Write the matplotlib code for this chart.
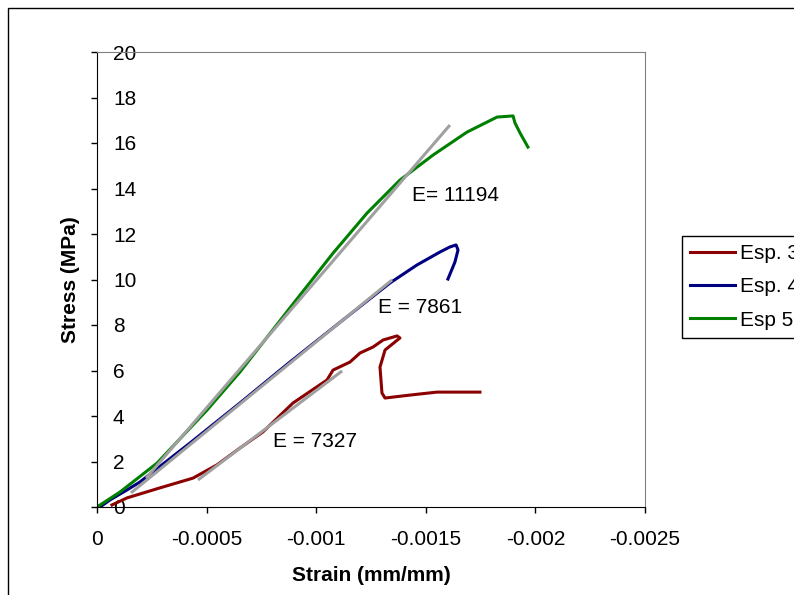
import matplotlib
matplotlib.use("Agg")
import matplotlib.pyplot as plt
from matplotlib.patches import Rectangle

plt.rcParams['font.family'] = ['Liberation Sans', 'DejaVu Sans']

# Esp. 3 (red)
esp3_strain = [-0.0000684, -0.000137, -0.000287, -0.000438, -0.000547, -0.000652, -0.000757,
               -0.000894, -0.001049, -0.001077, -0.001154, -0.001200, -0.001259, -0.001305,
               -0.001369, -0.001382, -0.001314, -0.001291, -0.001300, -0.001314, -0.001428,
               -0.001551, -0.001747]
esp3_stress = [0.09, 0.40, 0.84, 1.27, 1.85, 2.59, 3.30, 4.57, 5.58, 6.02, 6.37, 6.77, 7.03,
               7.34, 7.52, 7.43, 6.90, 6.15, 5.01, 4.79, 4.92, 5.05, 5.05]

# Esp. 4 (blue)
esp4_strain = [-0.0000137, -0.0000593, -0.000137, -0.000196, -0.000424, -0.000652, -0.000880,
               -0.001122, -0.001337, -0.001460, -0.001565, -0.001610, -0.001638, -0.001647,
               -0.001633, -0.001601]
esp4_stress = [0.0, 0.31, 0.75, 1.10, 2.81, 4.57, 6.37, 8.22, 9.85, 10.64, 11.21, 11.43,
               11.52, 11.30, 10.77, 10.02]

# Esp 5 (green)
esp5_strain = [0.0, -0.000105, -0.000274, -0.000502, -0.000652, -0.000880, -0.001077,
               -0.001232, -0.001382, -0.001533, -0.001688, -0.001825, -0.001898, -0.001907,
               -0.001930, -0.001966]
esp5_stress = [0.0, 0.66, 1.93, 4.26, 5.93, 8.75, 11.16, 12.92, 14.37, 15.47, 16.48, 17.14,
               17.19, 16.88, 16.44, 15.82]

# linear fits (end points)
fit3_x = [-0.000461, -0.001118]
fit3_y = [1.19, 5.98]
fit4_x = [-0.000155, -0.001346]
fit4_y = [0.62, 9.98]
fit5_x = [-0.000224, -0.00161]
fit5_y = [1.27, 16.79]

labels = ["Esp. 3", "Esp. 4", "Esp 5"]
annot_text = ["E = 7327", "E = 7861", "E= 11194"]
annot_x = [-0.000803, -0.001282, -0.001437]
annot_y = [2.90, 8.79, 13.71]

xticks = [0, -0.0005, -0.001, -0.0015, -0.002, -0.0025]
xticklabels = ["0", "-0.0005", "-0.001", "-0.0015", "-0.002", "-0.0025"]
yticks = list(range(0, 21, 2))

fs = 15
fig = plt.figure(figsize=(7.94, 5.95), dpi=100)
ax = fig.add_axes([97/794, 1-507/595, 548/794, 455/595])

l3, = ax.plot(esp3_strain, esp3_stress, color='#8B0000', lw=2.2, solid_joinstyle='round')
l4, = ax.plot(esp4_strain, esp4_stress, color='#000080', lw=2.2, solid_joinstyle='round')
l5, = ax.plot(esp5_strain, esp5_stress, color='#008000', lw=2.2, solid_joinstyle='round')
for fx, fy in [(fit3_x, fit3_y), (fit4_x, fit4_y), (fit5_x, fit5_y)]:
    ax.plot(fx, fy, color='#A0A0A0', lw=2.2, solid_capstyle='butt')

for t, x, y in zip(annot_text, annot_x, annot_y):
    ax.text(x, y, t, fontsize=fs, ha='left', va='center')

ax.set_xlim(0, -0.0025)
ax.set_ylim(0, 20)
ax.set_xticks(xticks)
ax.set_xticklabels(xticklabels)
ax.set_yticks(yticks)
ax.tick_params(axis='x', direction='out', length=4.3, width=1, labelsize=fs, pad=12.5)
ax.tick_params(axis='y', direction='out', length=4.3, width=1, labelsize=fs, pad=-15.8)
for lab in ax.get_yticklabels():
    lab.set_horizontalalignment('left')
for s in ['top', 'right']:
    ax.spines[s].set_color('#808080')
for s in ['left', 'bottom']:
    ax.spines[s].set_color('black')

ax.set_xlabel("Strain (mm/mm)", fontsize=fs, fontweight='bold')
ax.set_ylabel("Stress (MPa)", fontsize=fs, fontweight='bold')
ax.xaxis.set_label_coords(0.5, -(566-507)/455)
ax.yaxis.set_label_coords(-(97-80)/548, 0.5)

leg = fig.legend([l3, l4, l5], labels, loc='upper left',
                 bbox_to_anchor=(682/794, 1-236/595), borderaxespad=0,
                 fontsize=fs, handlelength=2.16, handletextpad=0.2, labelspacing=0.68,
                 borderpad=0.4, fancybox=False, framealpha=1, edgecolor='black')
leg.get_frame().set_linewidth(1)

fig.add_artist(Rectangle((8/794, -0.1), 1.2, 1.1 - 8/595, transform=fig.transFigure,
                         fill=False, edgecolor='black', lw=1))

fig.savefig("out.png", dpi=100)
